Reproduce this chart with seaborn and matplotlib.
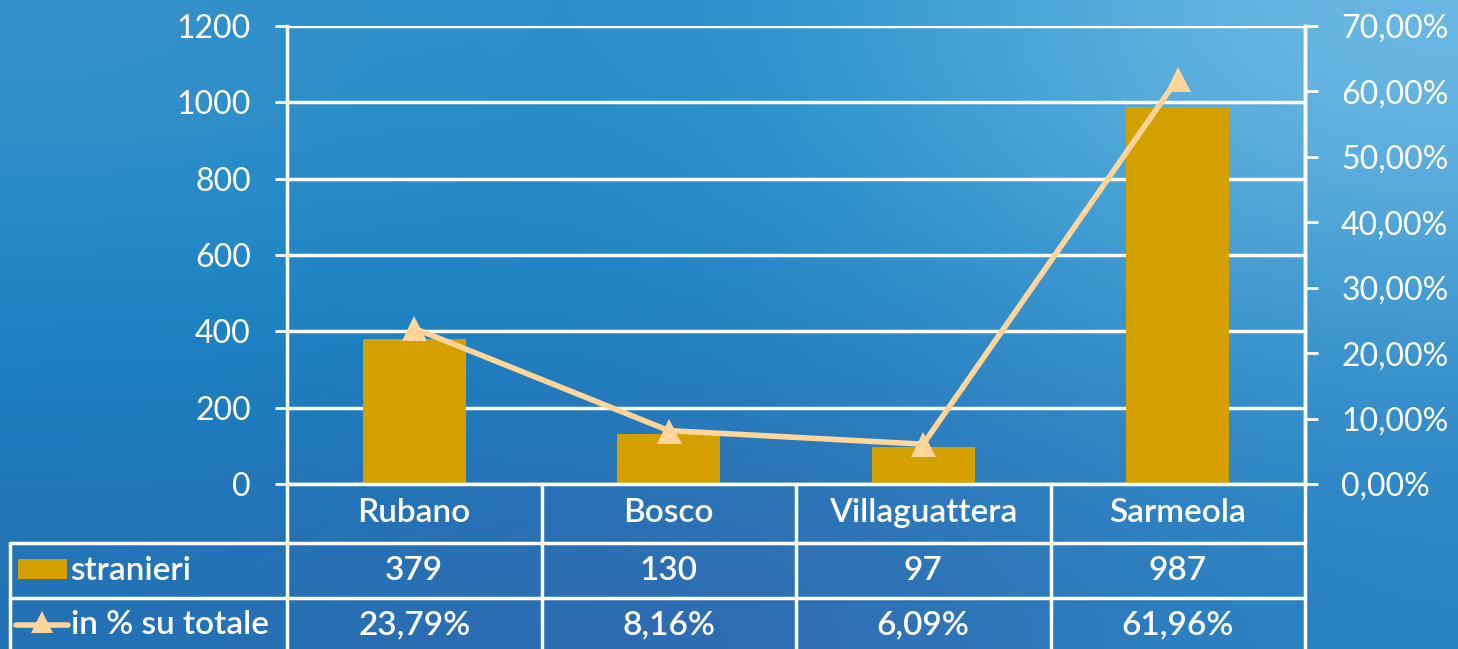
import numpy as np
import matplotlib
matplotlib.use('Agg')
import matplotlib.pyplot as plt
import seaborn as sns
from matplotlib.ticker import FuncFormatter, MultipleLocator
from matplotlib.patches import Rectangle
from matplotlib.lines import Line2D

# Data
categories = ["Rubano", "Bosco", "Villaguattera", "Sarmeola"]
stranieri = [379, 130, 97, 987]
pct_totale = [0.2379, 0.0816, 0.0609, 0.6196]
stranieri_labels = ["379", "130", "97", "987"]
pct_labels = ["23,79%", "8,16%", "6,09%", "61,96%"]
series_names = ["stranieri", "in % su totale"]

BAR = "#D4A000"
LINE = "#FFD59A"
WHITE = "white"

sns.set_theme(style="white")
plt.rcParams['font.family'] = ['Lato', 'DejaVu Sans']

W, H = 1458, 649
fig = plt.figure(figsize=(W / 100, H / 100), dpi=100)

def fx(x):
    return x / W

def fy(y):
    return 1 - y / H

# Background gradient
bg = fig.add_axes([0, 0, 1, 1], zorder=-10)
grid = np.array([
    [[0x38, 0x92, 0xCA], [0x1C, 0x8C, 0xCA], [0x6E, 0xBA, 0xE4]],
    [[0x16, 0x84, 0xC4], [0x1C, 0x80, 0xC0], [0x3E, 0x98, 0xD0]],
    [[0x24, 0x72, 0xB6], [0x34, 0x66, 0xAC], [0x2A, 0x84, 0xC4]],
]) / 255.0
bg.imshow(grid, aspect='auto', interpolation='bicubic', extent=[0, 1, 0, 1])
bg.set_axis_off()

# Main axes
left, right, top, bottom = 287, 1305, 26, 484
ax = fig.add_axes([fx(left), fy(bottom), fx(right - left), (bottom - top) / H])
ax.patch.set_alpha(0)
sns.barplot(x=categories, y=stranieri, color=BAR, width=0.405, saturation=1,
            edgecolor='none', linewidth=0, ax=ax)
ax.set_xlim(-0.5, 3.5)
ax.set_ylim(0, 1200)
ax.yaxis.set_major_locator(MultipleLocator(200))
ax.set_axisbelow(True)
ax.grid(axis='y', color=WHITE, lw=2.5)
ax.set_xticks([])
ax.set_xlabel("")
ax.set_ylabel("")
for s in ["left", "bottom", "right"]:
    ax.spines[s].set_color(WHITE)
    ax.spines[s].set_linewidth(2.5)
ax.spines["top"].set_visible(False)
ax.tick_params(axis='y', colors=WHITE, labelcolor=WHITE, labelsize=23,
               length=9, width=2, pad=17, left=True, direction='out')

ax2 = ax.twinx()
ax2.patch.set_alpha(0)
sns.lineplot(x=np.arange(len(categories)), y=pct_totale, color=LINE, lw=4,
             marker='^', markersize=18, markeredgewidth=0, ax=ax2)
ax2.set_xlim(-0.5, 3.5)
ax2.set_ylim(0, 0.7)
ax2.yaxis.set_major_locator(MultipleLocator(0.1))
ax2.yaxis.set_major_formatter(FuncFormatter(lambda v, p: f"{v * 100:.2f}%".replace(".", ",")))
ax2.set_ylabel("")
for s in ["left", "bottom", "top"]:
    ax2.spines[s].set_visible(False)
ax2.spines["right"].set_color(WHITE)
ax2.spines["right"].set_linewidth(2.5)
ax2.tick_params(axis='y', colors=WHITE, labelcolor=WHITE, labelsize=23,
                length=9, width=2, pad=17, right=True, direction='out')

# Data table below the axes
tr = ax.get_xaxis_transform()
ah = bottom - top

def ay(y):
    return (bottom - y) / ah

row_lines = [543, 598]
for y in row_lines:
    fig.add_artist(Line2D([fx(10), fx(right)], [fy(y), fy(y)], color=WHITE, lw=2.5))
for xb in np.arange(-0.5, len(categories), 1.0):
    ax.plot([xb, xb], [0, ay(H + 5)], transform=tr, color=WHITE, lw=2.5, clip_on=False)
fig.add_artist(Line2D([fx(10), fx(10)], [fy(543), fy(H + 5)], color=WHITE, lw=2.5))

txt = dict(transform=tr, ha='center', va='center', color=WHITE, fontsize=24,
           fontweight='semibold', clip_on=False)
for i, cat in enumerate(categories):
    ax.text(i, ay(513), cat, **txt)
    ax.text(i, ay(571), stranieri_labels[i], **txt)
    ax.text(i, ay(625), pct_labels[i], **txt)

# Row labels with legend keys
lab = dict(ha='left', va='center', color=WHITE, fontsize=24, fontweight='semibold')
fig.add_artist(Rectangle((fx(18), fy(579)), fx(67 - 18), (579 - 559) / H, color=BAR, lw=0))
fig.text(fx(70), fy(571), series_names[0], **lab)
fig.add_artist(Line2D([fx(16), fx(68)], [fy(625), fy(625)], color=LINE, lw=4))
fig.add_artist(Line2D([fx(42)], [fy(622)], color=LINE, marker='^', markersize=16, markeredgewidth=0))
fig.text(fx(71), fy(625), series_names[1], **lab)

fig.savefig("out.png", dpi=100)
